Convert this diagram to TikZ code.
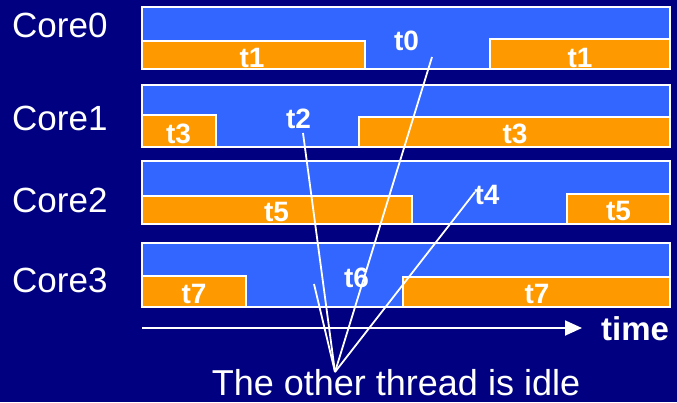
\documentclass[tikz,border=0pt]{standalone}
\usepackage{fontspec}
\setmainfont{Liberation Sans}
\usetikzlibrary{arrows.meta}
\definecolor{navybg}{RGB}{0,0,128}
\definecolor{runblue}{RGB}{51,102,255}
\definecolor{runorange}{RGB}{255,153,0}
\begin{document}
\begin{tikzpicture}[x=1pt,y=-1pt,
  busy/.style={draw=white,line width=1.8pt,fill=runblue},
  other/.style={draw=white,line width=1.8pt,fill=runorange},
  corelabel/.style={text=white,font=\fontsize{35}{40}\selectfont,anchor=base west,inner sep=0pt},
  task/.style={text=white,font=\bfseries\fontsize{28}{32}\selectfont,anchor=base,inner sep=0pt},
  pointer/.style={white,line width=1.8pt}]
% background
\fill[navybg] (0,0) rectangle (677,402);
\useasboundingbox (0,0) rectangle (677,402);

% core labels
\node[corelabel] (c0) at (12,37) {Core0};
\node[corelabel] (c1) at (12,130) {Core1};
\node[corelabel] (c2) at (12,212) {Core2};
\node[corelabel] (c3) at (12,292) {Core3};

% Core0 timeline
\draw[busy]  (142,7)   rectangle (670,69);
\draw[other] (142,41)  rectangle (365,69);
\draw[other] (490,39)  rectangle (670,69);
% Core1 timeline
\draw[busy]  (142,85)  rectangle (670,147);
\draw[other] (142,115) rectangle (216,147);
\draw[other] (359,117) rectangle (670,147);
% Core2 timeline
\draw[busy]  (142,161) rectangle (670,224);
\draw[other] (142,196) rectangle (412,224);
\draw[other] (567,194) rectangle (670,224);
% Core3 timeline
\draw[busy]  (142,243) rectangle (670,307);
\draw[other] (142,276) rectangle (246,307);
\draw[other] (403,277) rectangle (670,307);

% thread labels
\node[task] (t0)  at (406.5,50) {t0};
\node[task] (t1a) at (252,67)   {t1};
\node[task] (t1b) at (580,67)   {t1};
\node[task] (t2)  at (298.5,128){t2};
\node[task] (t3a) at (178.5,143){t3};
\node[task] (t3b) at (515,143)  {t3};
\node[task] (t4)  at (487,204)  {t4};
\node[task] (t5a) at (276.5,221){t5};
\node[task] (t5b) at (618.5,220){t5};
\node[task] (t6)  at (356.5,287){t6};
\node[task] (t7a) at (194,303)  {t7};
\node[task] (t7b) at (537,303)  {t7};

% time axis
\coordinate (tstart) at (142,328);
\coordinate (tend) at (582,328);
\draw[pointer,-{Triangle[length=17pt,width=15pt]}] (tstart) -- (tend);
\node[text=white,font=\bfseries\fontsize{33}{38}\selectfont,anchor=base west,inner sep=0pt] (time) at (601,340) {time};

% callout lines to the idle threads
\coordinate (meet) at (335,372);
\coordinate (p0) at (432,57);
\coordinate (p2) at (303,133);
\coordinate (p4) at (475,192);
\coordinate (p6) at (314,284);
\draw[pointer] (p0) -- (meet);
\draw[pointer] (p2) -- (meet);
\draw[pointer] (p4) -- (meet);
\draw[pointer] (p6) -- (meet);

\node[text=white,font=\fontsize{36}{42}\selectfont,anchor=base,inner sep=0pt] (idle) at (396,395) {The other thread is idle};
\end{tikzpicture}
\end{document}
